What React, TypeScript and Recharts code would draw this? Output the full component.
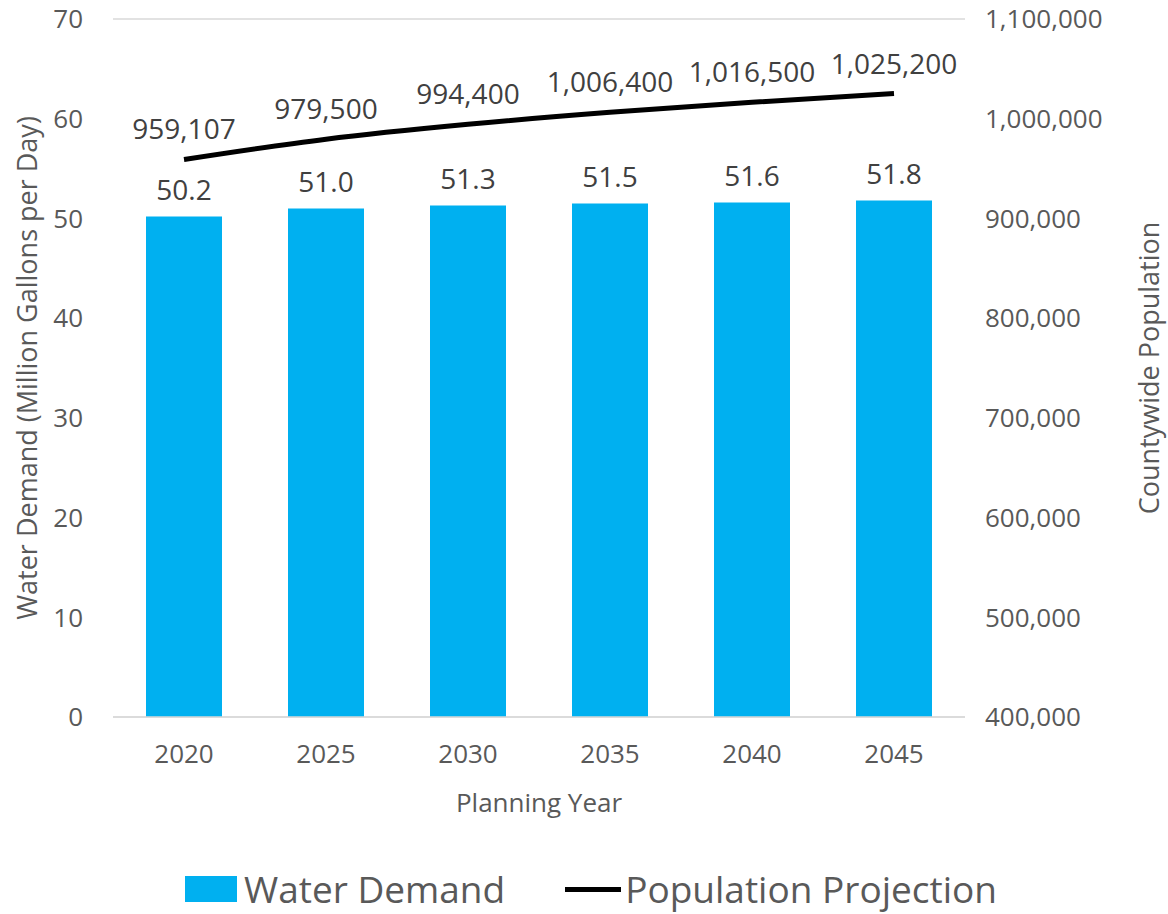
import {
  Bar,
  CartesianGrid,
  ComposedChart,
  LabelList,
  Legend,
  Line,
  XAxis,
  YAxis,
} from "recharts";

const years = ["2020", "2025", "2030", "2035", "2040", "2045"];
const waterDemand = [50.2, 51.0, 51.3, 51.5, 51.6, 51.8];
const population = [959107, 979500, 994400, 1006400, 1016500, 1025200];
const demandTicks = [0, 10, 20, 30, 40, 50, 60, 70];
const populationTicks = [400000, 500000, 600000, 700000, 800000, 900000, 1000000, 1100000];

const data = years.map((year, i) => ({
  year,
  demand: waterDemand[i],
  population: population[i],
}));

const font = "'Open Sans', 'Segoe UI', sans-serif";
const textColor = "#595959";

function LegendContent() {
  return (
    <div
      style={{
        display: "flex",
        justifyContent: "center",
        alignItems: "center",
        fontFamily: font,
        fontSize: 37,
        lineHeight: "50px",
        color: textColor,
        paddingTop: 34,
        paddingLeft: 14,
      }}
    >
      <span style={{ display: "inline-block", width: 52, height: 26, background: "#00B0F0", marginRight: 7 }} />
      <span>Water Demand</span>
      <span style={{ display: "inline-block", width: 56, height: 5, background: "#000", marginLeft: 60, marginRight: 4 }} />
      <span>Population Projection</span>
    </div>
  );
}

export default function App() {
  return (
    <div style={{ position: "absolute", left: 0, top: 0, width: 1168, height: 914, background: "#fff" }}>
      <ComposedChart
        width={1168}
        height={914}
        data={data}
        margin={{ top: 19, right: 0, bottom: 0, left: 0 }}
        style={{ fontFamily: font }}
      >
        <CartesianGrid vertical={false} stroke="#d9d9d9" strokeWidth={1.5} />
        <XAxis
          dataKey="year"
          height={113}
          tickLine={false}
          axisLine={{ stroke: "#d9d9d9", strokeWidth: 1.5 }}
          tick={{ fill: textColor, fontSize: 26 }}
          tickMargin={22}
          label={{ value: "Planning Year", position: "insideTop", dy: 72, fill: textColor, fontSize: 26 }}
        />
        <YAxis
          yAxisId="left"
          orientation="left"
          width={113}
          domain={[0, 70]}
          ticks={demandTicks}
          interval={0}
          tickLine={false}
          axisLine={false}
          tick={{ fill: textColor, fontSize: 26 }}
          tickMargin={24}
          label={{
            value: "Water Demand (Million Gallons per Day)",
            angle: -90,
            position: "insideLeft",
            dx: 22,
            fill: textColor,
            fontSize: 27,
            style: { textAnchor: "middle" },
          }}
        />
        <YAxis
          yAxisId="right"
          orientation="right"
          width={203}
          domain={[400000, 1100000]}
          ticks={populationTicks}
          interval={0}
          tickLine={false}
          axisLine={false}
          tick={{ fill: textColor, fontSize: 26 }}
          tickMargin={14}
          tickFormatter={(v) => Number(v).toLocaleString("en-US")}
          label={{
            value: "Countywide Population",
            angle: -90,
            position: "insideRight",
            dx: -14,
            fill: textColor,
            fontSize: 27,
            style: { textAnchor: "middle" },
          }}
        />
        <Legend verticalAlign="bottom" height={84} content={<LegendContent />} />
        <Bar
          yAxisId="left"
          dataKey="demand"
          name="Water Demand"
          fill="#00B0F0"
          barSize={76}
          isAnimationActive={false}
        >
          <LabelList
            dataKey="demand"
            position="top"
            offset={16}
            fill="#404040"
            fontSize={28}
            formatter={(v) => Number(v).toFixed(1)}
          />
        </Bar>
        <Line
          yAxisId="right"
          type="monotone"
          dataKey="population"
          name="Population Projection"
          stroke="#000"
          strokeWidth={5}
          dot={false}
          isAnimationActive={false}
        >
          <LabelList
            dataKey="population"
            position="top"
            offset={20}
            fill="#404040"
            fontSize={28}
            formatter={(v) => Number(v).toLocaleString("en-US")}
          />
        </Line>
      </ComposedChart>
    </div>
  );
}
